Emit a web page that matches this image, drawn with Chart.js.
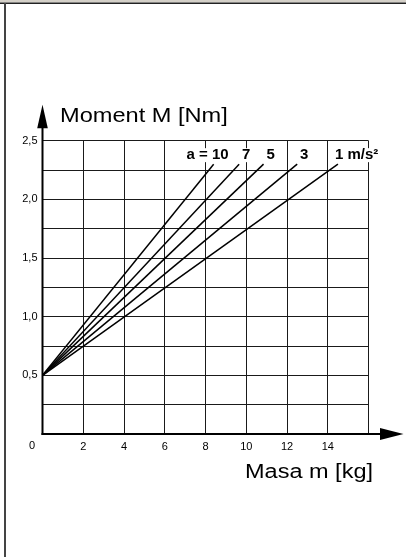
<!DOCTYPE html>
<html>
<head>
<meta charset="utf-8">
<script src="https://cdn.jsdelivr.net/npm/chart.js@4/dist/chart.umd.min.js"></script>
<style>
  html, body { margin: 0; padding: 0; background: #fff; }
  canvas { display: block; }
</style>
</head>
<body>
<canvas id="c" width="406" height="557"></canvas>
<script>
// ---- data ----
const accelLabels = ['a = 10', '7', '5', '3', '1 m/s²'];
const massStart   = [0, 0, 0, 0, 0];
const momentStart = [0.5, 0.5, 0.5, 0.5, 0.5];
const massEnd     = [8.4, 9.65, 10.85, 12.5, 14.5];
const momentEnd   = [2.3, 2.3, 2.3, 2.3, 2.3];
const xTickValues = [2, 4, 6, 8, 10, 12, 14];
const yTickValues = [0.5, 1.0, 1.5, 2.0, 2.5];
const originLabel = '0';
const yTitle = 'Moment M [Nm]';
const xTitle = 'Masa m [kg]';

const FONT = '"Liberation Sans", Arial, Helvetica, sans-serif';

const datasets = accelLabels.map((lab, i) => ({
  label: lab,
  data: [{x: massStart[i], y: momentStart[i]}, {x: massEnd[i], y: momentEnd[i]}],
  showLine: true,
  borderColor: '#000',
  borderWidth: 1.5,
  pointRadius: 0,
  fill: false
}));

const decor = {
  id: 'decor',
  beforeDraw(chart) {
    const ctx = chart.ctx;
    ctx.save();
    ctx.fillStyle = '#d4d0c8';
    ctx.fillRect(0, 0, 406, 2.5);
    ctx.strokeStyle = '#222';
    ctx.lineWidth = 1.5;
    ctx.beginPath(); ctx.moveTo(0, 3.2); ctx.lineTo(406, 3.2); ctx.stroke();
    ctx.strokeStyle = '#444';
    ctx.lineWidth = 2;
    ctx.beginPath(); ctx.moveTo(5, 3); ctx.lineTo(5, 557); ctx.stroke();
    ctx.restore();
  },
  afterDraw(chart) {
    const ctx = chart.ctx;
    const xs = chart.scales.x, ys = chart.scales.y;
    const x0 = xs.getPixelForValue(0);
    const y0 = ys.getPixelForValue(0);
    const yTop = ys.getPixelForValue(2.5);
    const xRight = xs.getPixelForValue(16);
    ctx.save();
    ctx.strokeStyle = '#000';
    ctx.fillStyle = '#000';
    ctx.lineWidth = 2;
    ctx.beginPath(); ctx.moveTo(x0, y0 + 1); ctx.lineTo(x0, yTop - 13); ctx.stroke();
    ctx.beginPath();
    ctx.moveTo(x0, yTop - 36);
    ctx.lineTo(x0 - 5.3, yTop - 12.5);
    ctx.lineTo(x0 + 5.3, yTop - 12.5);
    ctx.closePath(); ctx.fill();
    ctx.beginPath(); ctx.moveTo(x0 - 1, y0); ctx.lineTo(xRight + 12, y0); ctx.stroke();
    ctx.beginPath();
    ctx.moveTo(xRight + 35, y0);
    ctx.lineTo(xRight + 11.5, y0 - 6);
    ctx.lineTo(xRight + 11.5, y0 + 6);
    ctx.closePath(); ctx.fill();

    ctx.font = '11px ' + FONT;
    ctx.textAlign = 'center';
    ctx.textBaseline = 'middle';
    ctx.fillText(originLabel, x0 - 10.5, y0 + 11.5);

    ctx.font = '20px ' + FONT;
    ctx.textAlign = 'left';
    ctx.textBaseline = 'alphabetic';
    ctx.save(); ctx.translate(60, 121.7); ctx.scale(1.18, 1); ctx.fillText(yTitle, 0, 0); ctx.restore();
    ctx.save(); ctx.translate(245, 477.7); ctx.scale(1.175, 1); ctx.fillText(xTitle, 0, 0); ctx.restore();

    ctx.font = 'bold 15px ' + FONT;
    ctx.textBaseline = 'middle';
    chart.data.datasets.forEach((ds, i) => {
      const pt = chart.getDatasetMeta(i).data[1];
      const txt = ds.label;
      const w = ctx.measureText(txt).width;
      let left;
      if (i === 0) left = pt.x + 15 - w;
      else if (i === chart.data.datasets.length - 1) left = pt.x - 3;
      else left = pt.x + 7 - w / 2;
      const cy = pt.y - 9;
      ctx.fillStyle = '#fff';
      ctx.fillRect(left - 1, cy - 7, w + 2, 14);
      ctx.fillStyle = '#000';
      ctx.textAlign = 'left';
      ctx.fillText(txt, left, cy);
    });
    ctx.restore();
  }
};

const isNear = (v, arr) => arr.some(t => Math.abs(t - v) < 1e-6);

new Chart(document.getElementById('c'), {
  type: 'scatter',
  data: { datasets },
  options: {
    responsive: false,
    animation: false,
    events: [],
    layout: { padding: { left: 4.5, right: 37.5, top: 140.7, bottom: 103 } },
    plugins: { legend: { display: false }, tooltip: { enabled: false } },
    scales: {
      x: {
        type: 'linear', min: 0, max: 16,
        afterFit(s) { s.height = 20; },
        border: { display: false },
        grid: { color: '#1a1a1a', lineWidth: 1, drawTicks: false },
        ticks: {
          stepSize: 2, autoSkip: false, maxRotation: 0, padding: 6,
          color: '#000', font: { family: FONT, size: 11 },
          callback: v => isNear(v, xTickValues) ? String(v) : ''
        }
      },
      y: {
        type: 'linear', min: 0, max: 2.5,
        afterFit(s) { s.width = 38; },
        border: { display: false },
        grid: { color: '#1a1a1a', lineWidth: 1, drawTicks: false },
        ticks: {
          stepSize: 0.25, autoSkip: false, padding: 5,
          color: '#000', font: { family: FONT, size: 11 },
          callback: v => isNear(v, yTickValues) ? v.toFixed(1).replace('.', ',') : ''
        }
      }
    }
  },
  plugins: [decor]
});
</script>
</body>
</html>
